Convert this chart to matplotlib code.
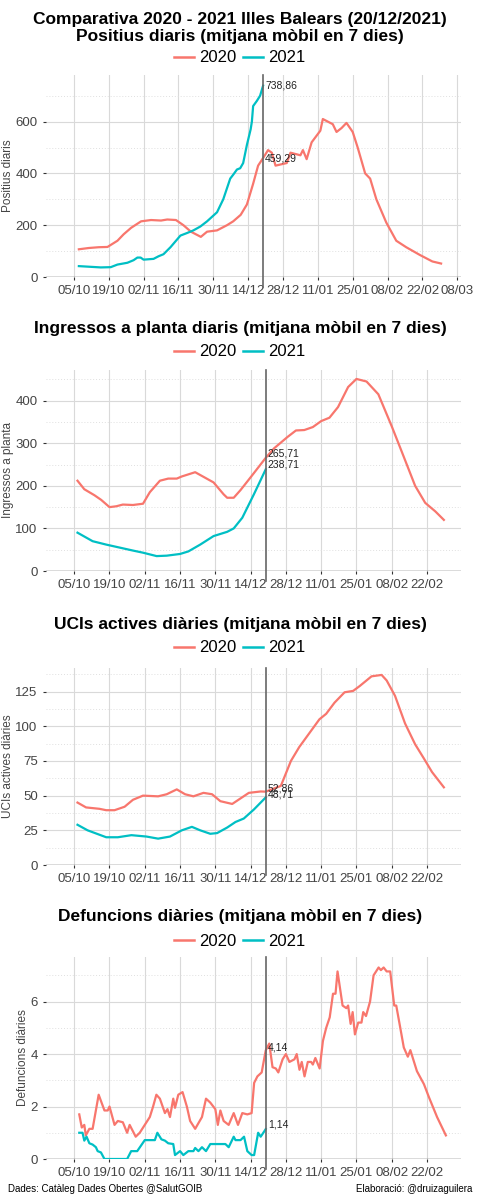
import matplotlib
matplotlib.use("Agg")
import matplotlib.pyplot as plt
from matplotlib.lines import Line2D

plt.rcParams['font.family'] = ['Liberation Sans', 'DejaVu Sans']

C20 = '#F8766D'
C21 = '#00BFC4'

# x = days since 05/10
tick_days = [0, 14, 28, 42, 56, 70, 84, 98, 112, 126, 140, 154]
tick_labels = ['05/10', '19/10', '02/11', '16/11', '30/11', '14/12', '28/12',
               '11/01', '25/01', '08/02', '22/02', '08/03']
ref_day = 76

pos20_d = [2, 6, 10, 13.5, 17.5, 20, 23, 27, 31, 35, 37.5, 41, 44, 47, 51, 53.5, 57.5, 61.5, 64, 67, 69.5, 72, 74, 76,
           78, 79.5, 81, 85.5, 87, 91, 92, 93.5, 95.5, 99, 100, 104, 105.5, 107.5, 109.5, 112, 114, 117, 119, 121.5,
           125.5, 129.5, 133.5, 139, 144, 147.5]
pos20_v = [107, 112, 115, 116, 140, 165, 190, 215, 220, 218, 222, 220, 200, 175, 155, 175, 180, 200, 215, 240, 280, 360,
           430, 459.29, 490, 480, 430, 440, 480, 470, 490, 455, 520, 565, 610, 590, 560, 575, 595, 560, 500, 400, 380,
           300, 210, 140, 115, 85, 60, 52]
pos21_d = [2, 10.8, 14.8, 17.5, 21.5, 24, 25.5, 26.8, 28, 32, 34, 36, 38.8, 42.8, 45.5, 48, 50.8, 53.5, 57.5, 60,
           62.8, 64, 65.5, 66.8, 68, 69.5, 71, 71.5, 72, 73.5, 74.8, 76]
pos21_v = [42, 37, 38, 48, 55, 65, 75, 75, 67, 70, 80, 88, 115, 160, 170, 180, 195, 215, 250, 300,
           380, 395, 415, 420, 440, 510, 570, 600, 660, 680, 700, 738.86]

ing20_d = [1.3, 4, 8, 10.7, 14, 16.7, 19.3, 23.3, 27.3, 30, 34, 37.3, 40.7, 42.7, 48, 55.3, 59.3, 60.7, 63.3, 66, 70, 76,
           79.3, 84.7, 88, 91.3, 94.7, 98, 101.3, 104.7, 108.7, 112, 116, 120.7, 126, 130, 135.3, 139.3, 143.3, 146.7]
ing20_v = [212, 192, 178, 167, 150, 152, 156, 155, 158, 185, 212, 217, 217, 222, 232, 208, 180, 172, 172, 190, 220,
           265.71, 288, 315, 330, 331, 338, 352, 360, 385, 432, 451, 445, 415, 340, 280, 200, 160, 140, 120]
ing21_d = [1.3, 7.3, 12.7, 18, 23.3, 27.3, 32.7, 36.7, 42, 45.3, 50, 55.3, 60.7, 63.3, 66.7, 71.3, 76]
ing21_v = [90, 70, 62, 55, 48, 43, 35, 36, 40, 46, 62, 82, 92, 100, 125, 180, 238.71]

uci20_d = [1.3, 4.7, 10, 12.7, 16, 20, 23.3, 27.3, 33.3, 36.7, 40.7, 44, 47.3, 51.3, 54.7, 58, 62.7, 66, 69.3, 74, 76,
           82, 86, 89.3, 93.3, 97.3, 100, 103.3, 107.3, 110.7, 113.3, 118, 122, 124, 127.3, 131.3, 135.3, 138.7, 142,
           146.7]
uci20_v = [45, 41.5, 40.5, 39.5, 39.5, 42, 47, 50, 49.5, 51, 54.5, 51, 49.5, 52, 51, 46, 44, 48, 52, 53, 52.86,
           57, 75, 85, 95, 105, 109, 117, 124.5, 125.5, 129, 136, 137, 133, 122, 102, 87, 77, 67, 56]
uci21_d = [1.3, 5.3, 12.7, 17.3, 22.7, 28.7, 33.3, 38, 42.7, 46.7, 50, 54, 56.7, 60.7, 64, 67.3, 71.3, 76]
uci21_v = [29, 25, 20, 20, 21.5, 20.5, 19, 20.5, 25, 27.5, 25, 22.5, 23, 27, 31, 33.5, 40, 48.71]

def20_d = [2, 3, 4, 4.6, 6, 7.3, 9.7, 12, 13.3, 14, 16, 17.3, 19.3, 21, 22, 24.4, 26, 28, 30, 31.3, 32.6, 34, 36, 37,
           38, 39.3, 40, 41.3, 43, 44.7, 46, 48, 50.7, 52.3, 54, 56, 57, 58, 59.3, 61.3, 63.3, 65, 66.7, 68.7, 70.4,
           71.4, 72.7, 74.4, 76, 77.4, 78.7, 80, 81, 82.7, 84, 85.4, 87.4, 88.3, 89.4, 90.3, 91.4, 92.7, 94, 94.7,
           95.7, 97.4, 98.7, 100, 101.4, 102.7, 103.7, 104.5, 106.5, 108, 108.7, 109.7, 110.5, 111.4, 112.7, 114,
           114.7, 115.8, 117.4, 118.8, 120.8, 121.7, 122.8, 124, 125.4, 127, 127.8, 129.4, 130.8, 132.4, 133.4, 136,
           138.8, 140.8, 144, 147.5]
def20_v = [1.7, 1.2, 1.3, 0.9, 1.15, 1.15, 2.45, 1.85, 1.85, 2.0, 1.3, 1.45, 1.4, 1.0, 1.3, 0.85, 1.0, 1.3, 1.6, 2.0,
           2.45, 2.3, 1.75, 1.9, 1.6, 2.3, 1.95, 2.45, 2.55, 2.0, 1.45, 1.15, 1.6, 2.3, 2.15, 1.9, 1.3, 1.85, 1.45, 1.3,
           1.75, 1.3, 1.75, 1.7, 1.75, 2.9, 3.15, 3.3, 4.14, 4.4, 3.5, 3.45, 3.3, 3.8, 4.0, 3.7, 3.8, 4.0, 3.4, 3.7,
           3.15, 3.7, 3.7, 3.6, 3.85, 3.45, 4.5, 5.0, 5.4, 6.3, 6.3, 7.15, 5.85, 5.75, 5.85, 5.15, 5.6, 4.75, 5.2, 5.2,
           5.6, 5.45, 6.0, 7.0, 7.3, 7.2, 7.3, 7.15, 7.15, 5.85, 5.85, 5.0, 4.25, 3.9, 4.15, 3.35, 2.85, 2.35, 1.6, 0.9]
def21_d = [2, 3.3, 4, 4.9, 6, 7.3, 8.6, 9.3, 10.6, 12, 21, 22.6, 25, 28, 32, 33, 34.6, 36, 37.3, 39.3, 40, 42, 43.3,
           45.3, 47.3, 48, 49.3, 50.7, 52.3, 54, 60, 61.3, 63.3, 64, 66, 67.4, 68.7, 70.4, 71.4, 73, 74, 75.4, 76]
def21_v = [1.0, 1.0, 0.7, 0.85, 0.6, 0.55, 0.45, 0.3, 0.25, 0.0, 0.0, 0.3, 0.3, 0.72, 0.72, 1.0, 0.75, 0.7, 0.6, 0.57,
           0.15, 0.3, 0.15, 0.3, 0.3, 0.42, 0.3, 0.45, 0.3, 0.57, 0.57, 0.45, 0.85, 0.72, 0.72, 0.85, 0.3, 0.15, 0.15,
           1.0, 0.85, 1.05, 1.14]

fig = plt.figure(figsize=(4.8, 12), dpi=100)
W, H = 480, 1200

panels = [
    dict(title="Comparativa 2020 - 2021 Illes Balears (20/12/2021)\nPositius diaris (mitjana mòbil en 7 dies)",
         ylabel="Positius diaris", top=75, bot=277, ylim=780, yt=[0, 200, 400, 600], ym=[100, 300, 500, 700],
         d20=(pos20_d, pos20_v), d21=(pos21_d, pos21_v), xmax=155.5, nt=12,
         ann=[("738,86", 738.86), ("459,29", 459.29)], ty=28, ly=58),
    dict(title="Ingressos a planta diaris (mitjana mòbil en 7 dies)", ylabel="Ingressos a planta",
         top=370, bot=571, ylim=472, yt=[0, 100, 200, 300, 400], ym=[50, 150, 250, 350, 450],
         d20=(ing20_d, ing20_v), d21=(ing21_d, ing21_v), xmax=153.5, nt=11,
         ann=[("265,71", 277), ("238,71", 249)], ty=328, ly=352),
    dict(title="UCIs actives diàries (mitjana mòbil en 7 dies)", ylabel="UCIs actives diàries",
         top=668, bot=865, ylim=142, yt=[0, 25, 50, 75, 100, 125], ym=[12.5, 37.5, 62.5, 87.5, 112.5, 137.5],
         d20=(uci20_d, uci20_v), d21=(uci21_d, uci21_v), xmax=153.5, nt=11,
         ann=[("52,86", 55), ("48,71", 50.5)], ty=624, ly=648),
    dict(title="Defuncions diàries (mitjana mòbil en 7 dies)", ylabel="Defuncions diàries",
         top=957, bot=1159, ylim=7.7, yt=[0, 2, 4, 6], ym=[1, 3, 5, 7],
         d20=(def20_d, def20_v), d21=(def21_d, def21_v), xmax=153.5, nt=11,
         ann=[("4,14", 4.25), ("1,14", 1.3)], ty=917, ly=941),
]

for p in panels:
    ax = fig.add_axes([46 / W, 1 - p['bot'] / H, (461 - 46) / W, (p['bot'] - p['top']) / H])
    ax.set_xlim(-11.2, p['xmax'])
    ax.set_ylim(0, p['ylim'])
    for s in ax.spines.values():
        s.set_visible(False)
    ax.axhline(0, color='#555555', lw=1, zorder=2)
    ax.set_yticks(p['yt'])
    ax.set_yticks(p['ym'], minor=True)
    ax.set_xticks(tick_days[:p['nt']])
    ax.set_xticklabels(tick_labels[:p['nt']])
    ax.grid(which='major', color='#d9d9d9', lw=0.8)
    ax.grid(which='minor', axis='y', color='#e0e0e0', lw=0.7, ls=(0, (1, 2)))
    ax.tick_params(which='major', length=2.5, colors='#333333', labelsize=9.5, labelcolor='#444444')
    ax.tick_params(which='minor', length=0)
    ax.set_ylabel(p['ylabel'], fontsize=8.5, color='#444444', labelpad=1)
    ax.plot(*p['d20'], color=C20, lw=1.6, zorder=3)
    ax.plot(*p['d21'], color=C21, lw=1.6, zorder=3)
    ax.axvline(ref_day, ymin=-0.05, ymax=1, color='#666666', lw=1.2, zorder=4, clip_on=False)
    for txt, ypos in p['ann']:
        ax.text(ref_day + 0.8, ypos, txt, fontsize=7.5, va='center', ha='left', color='#222222', zorder=5)
    fig.text(0.5, 1 - p['ty'] / H, p['title'], ha='center', va='center', fontsize=12.5,
             fontweight='bold', linespacing=1.1)
    handles = [Line2D([], [], color=C20, lw=1.8), Line2D([], [], color=C21, lw=1.8)]
    fig.legend(handles, ['2020', '2021'], loc='center', bbox_to_anchor=(0.5, 1 - p['ly'] / H), ncol=2,
               frameon=False, fontsize=12, handlelength=1.2, handletextpad=0.3, columnspacing=0.4)

fig.text(8 / W, 1 - 1189 / H, "Dades: Catàleg Dades Obertes @SalutGOIB", fontsize=7, ha='left', va='center')
fig.text(472 / W, 1 - 1189 / H, "Elaboració: @druizaguilera", fontsize=7, ha='right', va='center')

fig.savefig("out.png", dpi=100, facecolor='white')
